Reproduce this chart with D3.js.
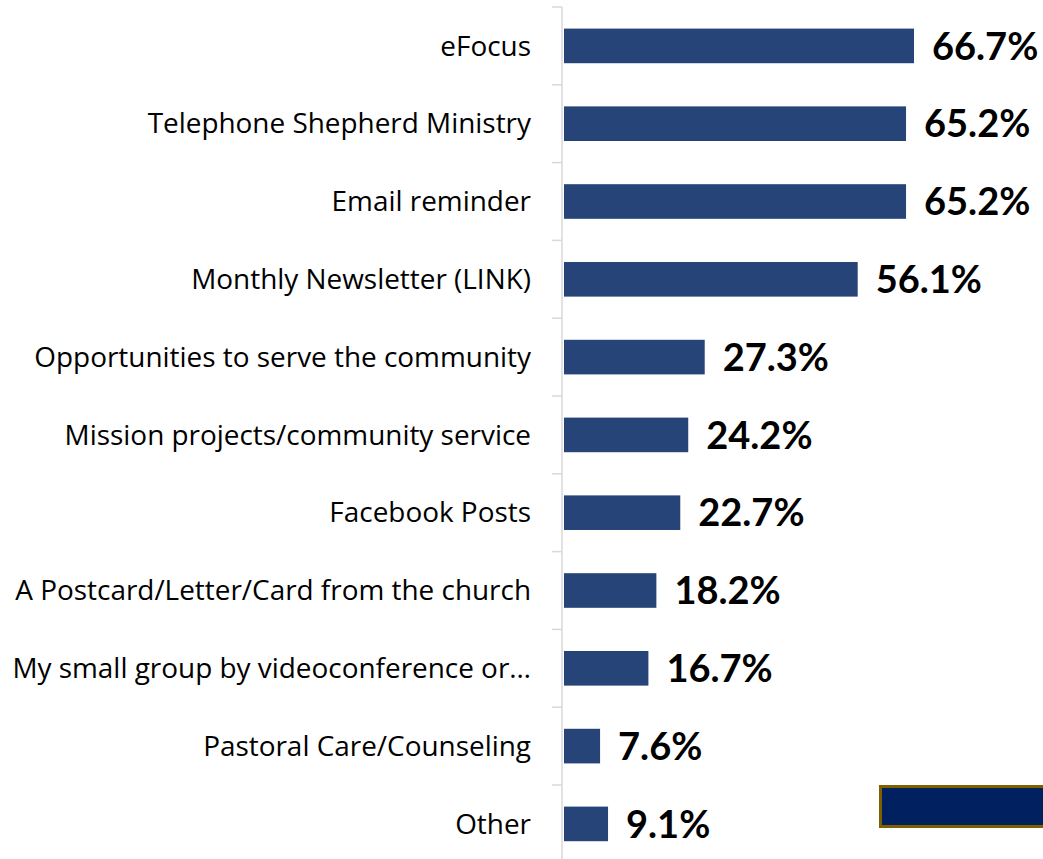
<!DOCTYPE html>
<html>
<head>
<meta charset="utf-8">
<script src="https://cdn.jsdelivr.net/npm/d3@7"></script>
<style>
  body { margin: 0; background: #fff; }
  svg { display: block; }
</style>
</head>
<body>
<svg id="chart"></svg>
<script>
// survey answers, top to bottom
var categories = [
    "eFocus",
    "Telephone Shepherd Ministry",
    "Email reminder",
    "Monthly Newsletter (LINK)",
    "Opportunities to serve the community",
    "Mission projects/community service",
    "Facebook Posts",
    "A Postcard/Letter/Card from the church",
    "My small group by videoconference or\u2026",
    "Pastoral Care/Counseling",
    "Other"
]
var values = [66.7, 65.2, 65.2, 56.1, 27.3, 24.2, 22.7, 18.2, 16.7, 7.6, 9.1]
var valueLabels = ["66.7%", "65.2%", "65.2%", "56.1%", "27.3%", "24.2%", "22.7%", "18.2%", "16.7%", "7.6%", "9.1%"]

function drawChart() {
    var width = 1043, height = 859
    var axisX = 562, barX = 564

    var data = categories.map((c, i) => ({ name: c, value: values[i], label: valueLabels[i] }))

    var svg = d3.select("#chart")
        .attr("width", width)
        .attr("height", height)

    var yScale = d3.scaleBand()
        .domain(categories)
        .range([7, 7 + 11 * 77.8])
        .paddingInner(0.555)
        .paddingOuter(0.2775)

    var xScale = d3.scaleLinear()
        .domain([0, 66.7])
        .range([559.7, 914])

    // category axis, light grey with outward ticks
    var tickYs = d3.range(categories.length + 1).map(i => 7 + i * yScale.step())
    svg.append("line")
        .attr("x1", axisX).attr("x2", axisX)
        .attr("y1", tickYs[0]).attr("y2", tickYs[tickYs.length - 1])
        .attr("stroke", "#d9d9d9")
        .attr("stroke-width", 1.5)
    svg.selectAll(".tickmark")
        .data(tickYs)
        .enter()
        .append("line")
        .attr("class", "tickmark")
        .attr("x1", axisX - 10).attr("x2", axisX)
        .attr("y1", d => d).attr("y2", d => d)
        .attr("stroke", "#d9d9d9")
        .attr("stroke-width", 1.5)

    // category labels
    var cats = svg.selectAll(".cat")
        .data(data)
        .enter()
        .append("text")
        .attr("class", "cat")
        .attr("x", 531)
        .attr("y", d => yScale(d.name) + yScale.bandwidth() / 2)
        .attr("dy", "0.35em")
        .attr("text-anchor", "end")
        .style("font-family", "'Open Sans', Lato, sans-serif")
        .style("font-size", "26px")
        .style("fill", "#000")
        .text(d => d.name)

    // size the labels so the longest one spans like in the original
    var longest = d3.max(cats.nodes(), n => n.getComputedTextLength())
    cats.style("font-size", (26 * 519 / longest) + "px")

    // bars
    svg.selectAll(".bar")
        .data(data)
        .enter()
        .append("rect")
        .attr("class", "bar")
        .attr("x", barX)
        .attr("y", d => yScale(d.name))
        .attr("width", d => xScale(d.value) - barX)
        .attr("height", yScale.bandwidth())
        .attr("fill", "#264478")

    // value labels
    svg.selectAll(".val")
        .data(data)
        .enter()
        .append("text")
        .attr("class", "val")
        .attr("x", d => xScale(d.value) + 18)
        .attr("y", d => yScale(d.name) + yScale.bandwidth() / 2)
        .attr("dy", "0.36em")
        .style("font-family", "Lato, 'Open Sans', sans-serif")
        .style("font-weight", "bold")
        .style("font-size", "38px")
        .style("fill", "#000")
        .text(d => d.label)

    // box in the lower right corner, cut by the frame
    svg.append("rect")
        .attr("x", 880.5)
        .attr("y", 786.5)
        .attr("width", 200)
        .attr("height", 40)
        .attr("fill", "#002060")
        .attr("stroke", "#7f6000")
        .attr("stroke-width", 3)
}
drawChart()
</script>
</body>
</html>
